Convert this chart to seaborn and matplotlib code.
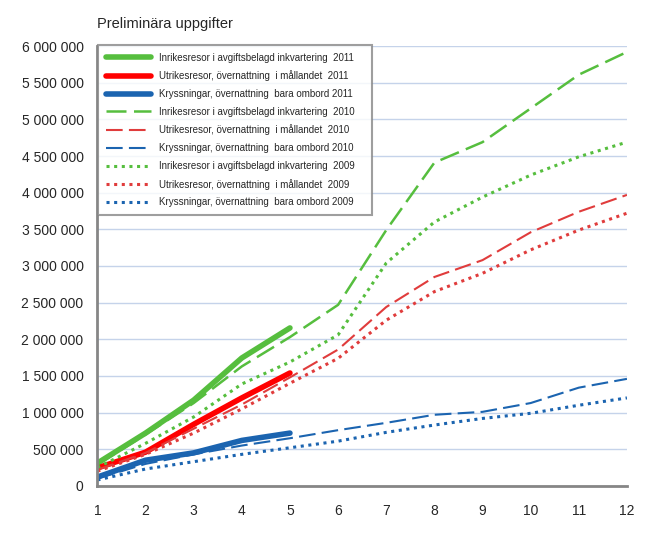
import matplotlib
matplotlib.use("Agg")
import matplotlib.pyplot as plt
import matplotlib.ticker as mticker
import seaborn as sns
import pandas as pd

months = list(range(1, 13))

# cumulative overnight stays per category and year
inrikes_2011 = [310000, 720000, 1170000, 1745000, 2155000]
utrikes_2011 = [245000, 460000, 840000, 1200000, 1540000]
kryss_2011 = [120000, 350000, 450000, 620000, 720000]

inrikes_2010 = [290000, 700000, 1130000, 1630000, 2030000, 2470000,
                3490000, 4410000, 4690000, 5150000, 5610000, 5920000]
utrikes_2010 = [220000, 450000, 780000, 1110000, 1480000, 1860000,
                2440000, 2850000, 3080000, 3460000, 3740000, 3970000]
kryss_2010 = [100000, 300000, 430000, 550000, 650000, 760000,
              860000, 970000, 1010000, 1130000, 1340000, 1460000]

inrikes_2009 = [250000, 580000, 940000, 1390000, 1690000, 2060000,
                3040000, 3600000, 3940000, 4240000, 4490000, 4690000]
utrikes_2009 = [200000, 430000, 720000, 1050000, 1400000, 1740000,
                2260000, 2650000, 2900000, 3220000, 3490000, 3720000]
kryss_2009 = [80000, 230000, 330000, 430000, 520000, 610000,
              730000, 830000, 920000, 990000, 1100000, 1200000]

series = [
    ("Inrikesresor i avgiftsbelagd inkvartering  2011", inrikes_2011, "#56be3e", "-", 4),
    ("Utrikesresor, övernattning  i mållandet  2011", utrikes_2011, "#ff0000", "-", 4),
    ("Kryssningar, övernattning  bara ombord 2011", kryss_2011, "#1b64b0", "-", 4),
    ("Inrikesresor i avgiftsbelagd inkvartering  2010", inrikes_2010, "#56be3e", (0, (8, 3)), 1.8),
    ("Utrikesresor, övernattning  i mållandet  2010", utrikes_2010, "#e03c3c", (0, (8, 3)), 1.5),
    ("Kryssningar, övernattning  bara ombord 2010", kryss_2010, "#1b64b0", (0, (8, 3)), 1.5),
    ("Inrikesresor i avgiftsbelagd inkvartering  2009", inrikes_2009, "#56be3e", (0, (1, 1.5)), 2.2),
    ("Utrikesresor, övernattning  i mållandet  2009", utrikes_2009, "#e03c3c", (0, (1, 1.5)), 2.2),
    ("Kryssningar, övernattning  bara ombord 2009", kryss_2009, "#1b64b0", (0, (1, 1.5)), 2.2),
]

sns.set_style("white")
plt.rcParams["font.family"] = ["Liberation Sans", "DejaVu Sans"]

fig, ax = plt.subplots(figsize=(6.45, 5.49), dpi=100)
fig.subplots_adjust(left=0.151, right=0.972, top=0.916, bottom=0.115)

for label, vals, color, ls, lw in series:
    df = pd.DataFrame({"month": months[:len(vals)], "value": vals})
    sns.lineplot(data=df, x="month", y="value", ax=ax, color=color,
                 linestyle=ls, linewidth=lw, label=label)

ax.set_xlim(1, 12)
ax.set_ylim(0, 6000000)
ax.set_xticks(months)
ax.set_yticks(range(0, 6000001, 500000))
ax.yaxis.set_major_formatter(
    mticker.FuncFormatter(lambda v, p: f"{int(v):,}".replace(",", " ")))
ax.set_xlabel("")
ax.set_ylabel("")
ax.grid(axis="y", color="#c5d3ea", linewidth=1)
ax.set_axisbelow(True)
for s in ["top", "right"]:
    ax.spines[s].set_visible(False)
for s in ["left", "bottom"]:
    ax.spines[s].set_color("#868686")
    ax.spines[s].set_linewidth(2)
ax.tick_params(axis="y", length=6, width=1, color="#868686", labelsize=10, pad=4)
ax.tick_params(axis="x", length=4, width=1, color="#868686", labelsize=10, pad=9)

ax.text(0.0, 1.035, "Preliminära uppgifter", transform=ax.transAxes,
        fontsize=10.5, ha="left", va="bottom")

leg = ax.legend(loc="upper left", bbox_to_anchor=(0.002, 0.0, 0.517, 1.003),
                mode="expand", fontsize=7, frameon=True, fancybox=False,
                handlelength=4.6, handletextpad=0.8, labelspacing=0.8,
                borderpad=0.8, borderaxespad=0)
leg.get_frame().set_edgecolor("#868686")
leg.get_frame().set_linewidth(1.5)

fig.savefig("out.png", dpi=100)
